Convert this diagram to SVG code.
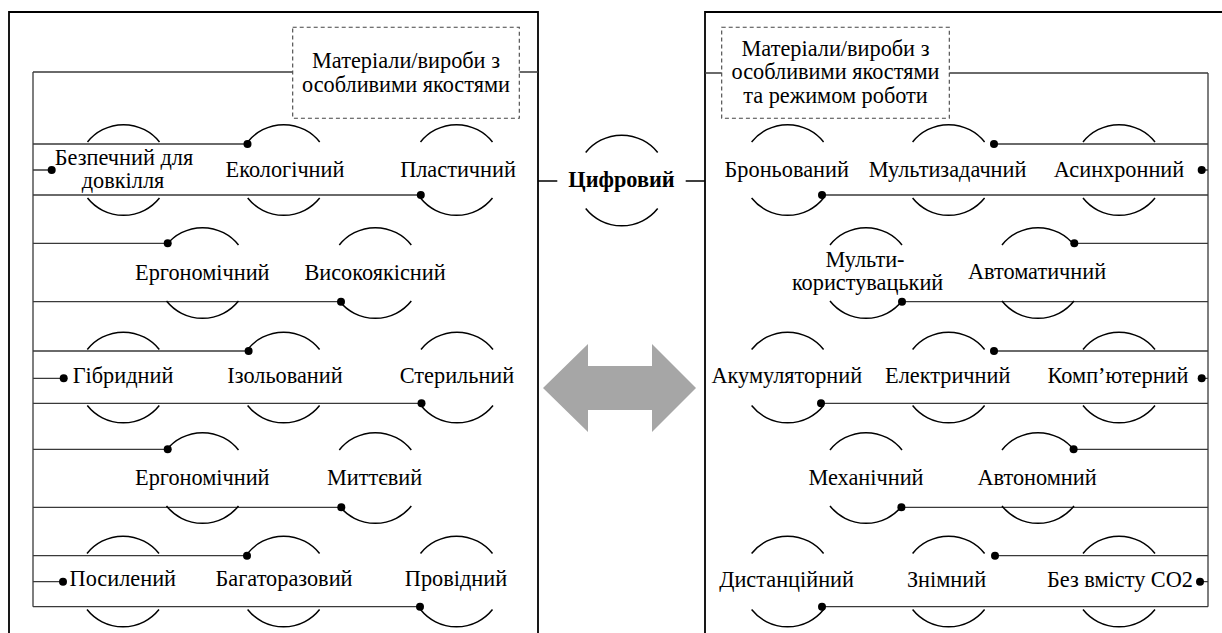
<svg xmlns="http://www.w3.org/2000/svg" xmlns:xlink="http://www.w3.org/1999/xlink" width="1222" height="633" viewBox="0 0 1222 633">
<style>
.frame{fill:none;stroke:#000;stroke-width:1.8}
.ln{fill:none;stroke:#3a3a3a;stroke-width:1.3}
.arc{fill:none;stroke:#000;stroke-width:1.5}
.dash{fill:#fff;stroke:#444;stroke-width:1.1;stroke-dasharray:4,3}
.dot{fill:#000}
text{font-family:"Liberation Serif","Times New Roman","DejaVu Serif",serif;font-size:22.3px;fill:#000;text-anchor:middle}
.bold{font-weight:bold}
</style>
<defs>
<path id="arcs" class="arc" d="M-36,-28 A46,46 0 0 1 36,-28 M-36,28 A46,46 0 0 0 36,28"/>
</defs>
<rect width="1222" height="633" fill="#fff"/>
<g id="frames">
<path class="frame" d="M9,640 V12 H538 V640"/>
<path class="frame" d="M705,640 V12 H1230"/>
</g>
<g id="connectors">
<path class="ln" d="M33,72 H292.7 M519.3,72 H538 M33,72 V606.7"/>
<path class="ln" d="M33,144 H247.5 M33,170 H51.7 M33,195 H420.8"/>
<path class="ln" d="M33,243.3 H167.7 M33,301.7 H341"/>
<path class="ln" d="M33,351 H248.6 M33,378.3 H63.7 M33,403.3 H421.5"/>
<path class="ln" d="M33,449.3 H167.7 M33,507.3 H341.3"/>
<path class="ln" d="M33,555.7 H247 M33,581.7 H63 M33,606.7 H420"/>
<g class="dot">
<circle cx="247.5" cy="144" r="4"/><circle cx="51.7" cy="170" r="4"/><circle cx="420.8" cy="195" r="4"/>
<circle cx="167.7" cy="243.3" r="4"/><circle cx="341" cy="301.7" r="4"/>
<circle cx="248.6" cy="351" r="4"/><circle cx="63.7" cy="378.3" r="4"/><circle cx="421.5" cy="403.3" r="4"/>
<circle cx="167.7" cy="449.3" r="4"/><circle cx="341.3" cy="507.3" r="4"/>
<circle cx="247" cy="555.7" r="4"/><circle cx="63" cy="581.7" r="4"/><circle cx="420" cy="606.7" r="4"/>
</g>
<path class="ln" d="M705,73 H721.7 M949.3,73 H1208 M1208,73 V606.7"/>
<path class="ln" d="M994,144 H1208 M1201.7,170 H1208 M822,195 H1208"/>
<path class="ln" d="M1074.3,243.3 H1208 M902,301.7 H1208"/>
<path class="ln" d="M994,351 H1208 M1201.7,378.3 H1208 M821,403.3 H1208"/>
<path class="ln" d="M1073.6,449.3 H1208 M901.4,507.3 H1208"/>
<path class="ln" d="M995,555.7 H1208 M1200,581.7 H1208 M822,606.7 H1208"/>
<g class="dot">
<circle cx="994" cy="144" r="4"/><circle cx="1201.7" cy="170" r="4"/><circle cx="822" cy="195" r="4"/>
<circle cx="1074.3" cy="243.3" r="4"/><circle cx="902" cy="301.7" r="4"/>
<circle cx="994" cy="351" r="4"/><circle cx="1201.7" cy="378.3" r="4"/><circle cx="821" cy="403.3" r="4"/>
<circle cx="1073.6" cy="449.3" r="4"/><circle cx="901.4" cy="507.3" r="4"/>
<circle cx="995" cy="555.7" r="4"/><circle cx="1200" cy="581.7" r="4"/><circle cx="822" cy="606.7" r="4"/>
</g>
<path class="arc" d="M538,181 H557.3 M685.7,181 H705"/>
</g>
<g id="arrow">
<polygon fill="#a6a6a6" points="543,388 588,344 588,366 652,366 652,344 696,388 652,432 652,410 588,410 588,432"/>
</g>
<g id="center-node">
<use xlink:href="#arcs" x="621.7" y="180.5"/>
<text class="bold" x="621.5" y="187">Цифровий</text>
</g>
<g id="left-header">
<rect class="dash" x="292.7" y="27.3" width="226.6" height="91"/>
<text x="406" y="68.3">Матеріали/вироби з</text>
<text x="406" y="91.7">особливими якостями</text>
</g>
<g id="right-header">
<rect class="dash" x="721.7" y="27.3" width="227.6" height="91"/>
<text x="835.5" y="56">Матеріали/вироби з</text>
<text x="835.5" y="79.3">особливими якостями</text>
<text x="835.5" y="102.7">та режимом роботи</text>
</g>
<g id="l-bezpechnyi"><use xlink:href="#arcs" x="123.5" y="170"/><text x="124" y="165">Безпечний для</text><text x="123" y="188.3">довкілля</text></g>
<g id="l-ekolohichnyi"><use xlink:href="#arcs" x="283.7" y="170"/><text x="285" y="176.7">Екологічний</text></g>
<g id="l-plastychnyi"><use xlink:href="#arcs" x="456.5" y="170"/><text x="458" y="176.7">Пластичний</text></g>
<g id="l-erhonomichnyi1"><use xlink:href="#arcs" x="202.5" y="273"/><text x="202.3" y="280">Ергономічний</text></g>
<g id="l-vysokoyakisnyi"><use xlink:href="#arcs" x="375.3" y="273"/><text x="375" y="280">Високоякісний</text></g>
<g id="l-hibrydnyi"><use xlink:href="#arcs" x="123.3" y="377.5"/><text x="123" y="382.7">Гібридний</text></g>
<g id="l-izolovanyi"><use xlink:href="#arcs" x="283.6" y="377.5"/><text x="285" y="382.7">Ізольований</text></g>
<g id="l-sterylnyi"><use xlink:href="#arcs" x="457" y="377.5"/><text x="457" y="382.7">Стерильний</text></g>
<g id="l-erhonomichnyi2"><use xlink:href="#arcs" x="202.5" y="478"/><text x="202.3" y="485">Ергономічний</text></g>
<g id="l-myttievyi"><use xlink:href="#arcs" x="375.3" y="478"/><text x="374.5" y="485">Миттєвий</text></g>
<g id="l-posylenyi"><use xlink:href="#arcs" x="123" y="581.5"/><text x="122.8" y="586">Посилений</text></g>
<g id="l-bahatorazovyi"><use xlink:href="#arcs" x="283.6" y="581.5"/><text x="284" y="586">Багаторазовий</text></g>
<g id="l-providnyi"><use xlink:href="#arcs" x="456.5" y="581.5"/><text x="456" y="586">Провідний</text></g>
<g id="r-bronovanyi"><use xlink:href="#arcs" x="787.6" y="170"/><text x="786.7" y="176.7">Броньований</text></g>
<g id="r-multyzadachnyi"><use xlink:href="#arcs" x="948.6" y="170"/><text x="947.6" y="176.7">Мультизадачний</text></g>
<g id="r-asynkhronnyi"><use xlink:href="#arcs" x="1119" y="170"/><text x="1119" y="176.7">Асинхронний</text></g>
<g id="r-multykorystuvatskyi"><use xlink:href="#arcs" x="866" y="273"/><text x="865" y="267">Мульти-</text><text x="867.6" y="290.3">користувацький</text></g>
<g id="r-avtomatychnyi"><use xlink:href="#arcs" x="1038" y="273"/><text x="1037" y="279.3">Автоматичний</text></g>
<g id="r-akumuliatornyi"><use xlink:href="#arcs" x="787.6" y="377.5"/><text x="786.8" y="382.7">Акумуляторний</text></g>
<g id="r-elektrychnyi"><use xlink:href="#arcs" x="948.6" y="377.5"/><text x="947.7" y="382.7">Електричний</text></g>
<g id="r-kompiuternyi"><use xlink:href="#arcs" x="1119" y="377.5"/><text x="1118" y="382.7">Комп’ютерний</text></g>
<g id="r-mekhanichnyi"><use xlink:href="#arcs" x="866" y="478"/><text x="866" y="485">Механічний</text></g>
<g id="r-avtonomnyi"><use xlink:href="#arcs" x="1038" y="478"/><text x="1037" y="485">Автономний</text></g>
<g id="r-dystantsiinyi"><use xlink:href="#arcs" x="787.6" y="581.5"/><text x="786.6" y="586.7">Дистанційний</text></g>
<g id="r-znimnyi"><use xlink:href="#arcs" x="948.6" y="581.5"/><text x="946.5" y="586.7">Знімний</text></g>
<g id="r-bez-co2"><use xlink:href="#arcs" x="1119" y="581.5"/><text x="1120" y="586.7">Без вмісту CO2</text></g>
</svg>
